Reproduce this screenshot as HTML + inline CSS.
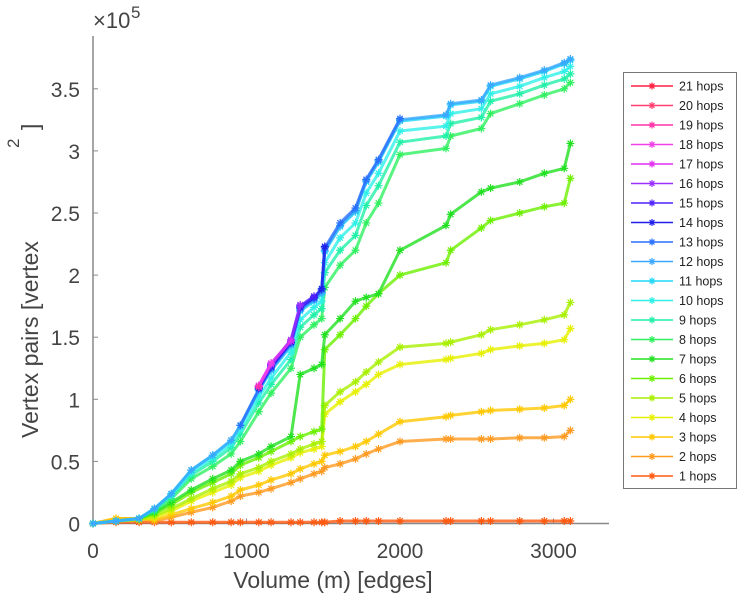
<!DOCTYPE html>
<html><head><meta charset="utf-8"><style>
html,body{margin:0;padding:0;background:#fff;}
svg{display:block;font-family:"Liberation Sans",sans-serif;}
</style></head><body>
<svg id="chart" width="743" height="600" viewBox="0 0 743 600">
<g id="axes"></g>
<g id="plot"></g>
<g id="legend"></g>
</svg>
<script>
const xTicks=[0,1000,2000,3000];
const yTicks=[0,0.5,1,1.5,2,2.5,3,3.5];
const yTickLabels=["0","0.5","1","1.5","2","2.5","3","3.5"];
const xGrid=[0,150,300,400,510,640,780,900,960,1080,1160,1290,1350,1440,1490,1510,1610,1710,1780,1860,2000,2300,2330,2530,2590,2780,2940,3070,3110];
const hop1=[0,0.01,0.01,0.01,0.01,0.01,0.01,0.01,0.01,0.01,0.01,0.01,0.01,0.01,0.01,0.01,0.02,0.02,0.02,0.02,0.02,0.02,0.02,0.02,0.02,0.02,0.02,0.02,0.02];
const hop2=[0,0.04,0.04,0.02,0.05,0.09,0.13,0.18,0.22,0.25,0.28,0.33,0.36,0.40,0.42,0.45,0.48,0.52,0.56,0.60,0.66,0.68,0.68,0.68,0.68,0.69,0.69,0.70,0.75];
const hop3=[0,0.04,0.04,0.03,0.07,0.12,0.17,0.22,0.27,0.31,0.35,0.40,0.44,0.48,0.50,0.55,0.58,0.62,0.66,0.72,0.82,0.86,0.87,0.90,0.91,0.92,0.93,0.95,1.00];
const hop4=[0,0.02,0.03,0.05,0.10,0.18,0.25,0.31,0.37,0.42,0.47,0.53,0.57,0.60,0.62,0.88,0.98,1.06,1.12,1.20,1.28,1.32,1.33,1.37,1.40,1.43,1.45,1.48,1.57];
const hop5=[0,0.02,0.03,0.06,0.12,0.20,0.28,0.34,0.40,0.45,0.50,0.56,0.60,0.64,0.66,0.95,1.06,1.14,1.22,1.30,1.42,1.45,1.46,1.52,1.56,1.60,1.64,1.68,1.78];
const hop6=[0,0.02,0.04,0.08,0.15,0.25,0.33,0.40,0.47,0.53,0.58,0.66,0.70,0.74,0.76,1.40,1.52,1.65,1.75,1.85,2.00,2.10,2.20,2.38,2.44,2.50,2.55,2.58,2.78];
const hop7=[0,0.02,0.04,0.09,0.17,0.27,0.36,0.43,0.50,0.56,0.62,0.70,1.20,1.25,1.28,1.52,1.65,1.79,1.82,1.85,2.20,2.40,2.49,2.67,2.70,2.75,2.82,2.86,3.06];
const hop8=[0,0.02,0.04,0.10,0.20,0.36,0.46,0.56,0.66,0.90,1.05,1.25,1.50,1.60,1.65,1.90,2.08,2.20,2.42,2.58,2.97,3.02,3.12,3.18,3.30,3.38,3.45,3.50,3.55];
const hop9=[0,0.02,0.04,0.11,0.22,0.39,0.50,0.61,0.72,0.97,1.12,1.32,1.58,1.68,1.73,2.02,2.20,2.32,2.56,2.72,3.07,3.12,3.22,3.27,3.40,3.46,3.53,3.58,3.62];
const hop10=[0,0.02,0.04,0.12,0.23,0.41,0.53,0.64,0.76,1.02,1.17,1.38,1.64,1.74,1.79,2.10,2.30,2.42,2.66,2.82,3.16,3.20,3.30,3.34,3.46,3.52,3.59,3.64,3.68];
const hop11=[0,0.02,0.04,0.12,0.24,0.43,0.55,0.67,0.79,1.07,1.23,1.43,1.71,1.79,1.85,2.19,2.39,2.51,2.75,2.91,3.24,3.28,3.37,3.40,3.52,3.58,3.64,3.70,3.73];
const hop12=[0,0.02,0.04,0.12,0.24,0.43,0.55,0.67,0.79,1.08,1.24,1.44,1.72,1.80,1.86,2.20,2.40,2.52,2.76,2.92,3.25,3.29,3.38,3.41,3.53,3.59,3.65,3.71,3.74];
const hop13=[null,null,null,null,null,null,null,null,0.79,1.08,1.25,1.45,1.73,1.81,1.88,2.22,2.42,2.54,2.77,2.93,3.26,null,null,null,null,null,null,null,null];
const hop14=[null,null,null,null,null,null,null,null,null,1.09,1.26,1.46,1.74,1.82,1.89,2.23,null,null,null,null,null,null,null,null,null,null,null,null,null];
const hop15=[null,null,null,null,null,null,null,null,null,1.10,1.27,1.47,1.75,1.83,null,null,null,null,null,null,null,null,null,null,null,null,null,null,null];
const hop16=[null,null,null,null,null,null,null,null,null,1.10,1.28,1.48,1.76,null,null,null,null,null,null,null,null,null,null,null,null,null,null,null,null];
const hop17=[null,null,null,null,null,null,null,null,null,1.11,1.29,1.47,null,null,null,null,null,null,null,null,null,null,null,null,null,null,null,null,null];
const hop18=[null,null,null,null,null,null,null,null,null,1.11,1.29,null,null,null,null,null,null,null,null,null,null,null,null,null,null,null,null,null,null];
const hop19=[null,null,null,null,null,null,null,null,null,1.10,null,null,null,null,null,null,null,null,null,null,null,null,null,null,null,null,null,null,null];
const hop20=[null,null,null,null,null,null,null,null,null,null,null,null,null,null,null,null,null,null,null,null,null,null,null,null,null,null,null,null,null];
const hop21=[null,null,null,null,null,null,null,null,null,null,null,null,null,null,null,null,null,null,null,null,null,null,null,null,null,null,null,null,null];
const seriesNames=["1 hops","2 hops","3 hops","4 hops","5 hops","6 hops","7 hops","8 hops","9 hops","10 hops","11 hops","12 hops","13 hops","14 hops","15 hops","16 hops","17 hops","18 hops","19 hops","20 hops","21 hops"];
const seriesValues=[hop1,hop2,hop3,hop4,hop5,hop6,hop7,hop8,hop9,hop10,hop11,hop12,hop13,hop14,hop15,hop16,hop17,hop18,hop19,hop20,hop21];
const colors=["#ff5a10","#ff9a20","#ffc800","#e6f000","#a8f000","#6cf000","#20e020","#30f060","#20f0a8","#30f0e8","#20d8f8","#3aa8ff","#2a70ff","#2020e8","#5020ff","#9a30ff","#e030f0","#f040e8","#ff30a8","#ff4070","#ff2040"];

const NS="http://www.w3.org/2000/svg";
const X0=93, XS=0.1535, Y0=523.5, YS=124.2;
function sx(v){return X0+v*XS;}
function sy(v){return Y0-v*YS;}
function mk(tag,attrs,parent){const e=document.createElementNS(NS,tag);for(const k in attrs)e.setAttribute(k,attrs[k]);parent.appendChild(e);return e;}

const axes=document.getElementById('axes');
let yl=mk('line',{x1:X0,y1:36,x2:X0,y2:Y0,stroke:'#888','stroke-width':1.5},axes);


let xl=mk('line',{x1:X0,y1:Y0,x2:609,y2:Y0,stroke:'#888','stroke-width':1.5},axes);


xTicks.forEach(t=>{
  let tk=mk('line',{x1:sx(t),y1:Y0,x2:sx(t),y2:Y0-5,stroke:'#888'},axes);
  
  
  let tx=mk('text',{x:sx(t),y:558,'text-anchor':'middle','font-size':21,fill:'#444'},axes);
  tx.textContent=String(t);
  
  
});
yTicks.forEach((t,i)=>{
  let tk=mk('line',{x1:X0,y1:sy(t),x2:X0+5,y2:sy(t),stroke:'#888'},axes);
  
  
  let tx=mk('text',{x:80,y:sy(t)+8,'text-anchor':'end','font-size':21,fill:'#444'},axes);
  tx.textContent=yTickLabels[i];
  
  
});
let ex=mk('text',{x:93,y:28,'font-size':22,fill:'#444'},axes);
ex.textContent='×10';


let ex5=mk('text',{x:131,y:18,'font-size':17,fill:'#444'},axes);
ex5.textContent='5';


let xt=mk('text',{x:333,y:588,'text-anchor':'middle','font-size':23,fill:'#444'},axes);
xt.textContent='Volume (m) [edges]';


let yt=mk('text',{x:0,y:0,'text-anchor':'start','font-size':23,fill:'#444',transform:'translate(38,438) rotate(-90)'},axes);
yt.textContent='Vertex pairs [vertex';


let y2=mk('text',{x:0,y:0,'font-size':17,fill:'#444',transform:'translate(19,148) rotate(-90)'},axes);
y2.textContent='2';


let yb=mk('text',{x:0,y:0,'font-size':23,fill:'#444',transform:'translate(38,130) rotate(-90)'},axes);
yb.textContent=']';



function star(parent,x,y,c,r){
  const d=`M${x-r},${y}H${x+r}M${x},${y-r}V${y+r}M${x-r*0.7},${y-r*0.7}L${x+r*0.7},${y+r*0.7}M${x-r*0.7},${y+r*0.7}L${x+r*0.7},${y-r*0.7}`;
  return mk('path',{d:d,stroke:c,'stroke-width':1.2,fill:'none'},parent);
}
const plot=document.getElementById('plot');
seriesValues.forEach((vals,si)=>{
  const g=mk('g',{},plot);
  
  
  let pts=[];
  vals.forEach((v,i)=>{if(v!==null)pts.push([sx(xGrid[i]),sy(v)]);});
  if(pts.length>1){
    let d='';
    pts.forEach((p,i)=>{d+=(i?'L':'M')+p[0].toFixed(1)+','+p[1].toFixed(1);});
    let ln=mk('path',{d:d,stroke:colors[si],'stroke-width':3,fill:'none','stroke-linejoin':'round','stroke-opacity':0.8},g);
    
    
  }
  pts.forEach(p=>{
    let m=star(g,p[0],p[1],colors[si],4);
    
    
  });
});

const lg=document.getElementById('legend');
let box=mk('rect',{x:623.5,y:72.5,width:113,height:416,fill:'#fff',stroke:'#777','stroke-width':1},lg);


for(let k=0;k<21;k++){
  const si=20-k;
  const yy=86+k*19.5;
  const g=mk('g',{},lg);
  
  
  mk('line',{x1:631,y1:yy,x2:673,y2:yy,stroke:colors[si],'stroke-width':1.5},g);
  star(g,652,yy,colors[si],3.5);
  let t=mk('text',{x:679,y:yy+4.5,'font-size':12.5,fill:'#222'},g);
  t.textContent=seriesNames[si];
}
</script>
</body></html>
